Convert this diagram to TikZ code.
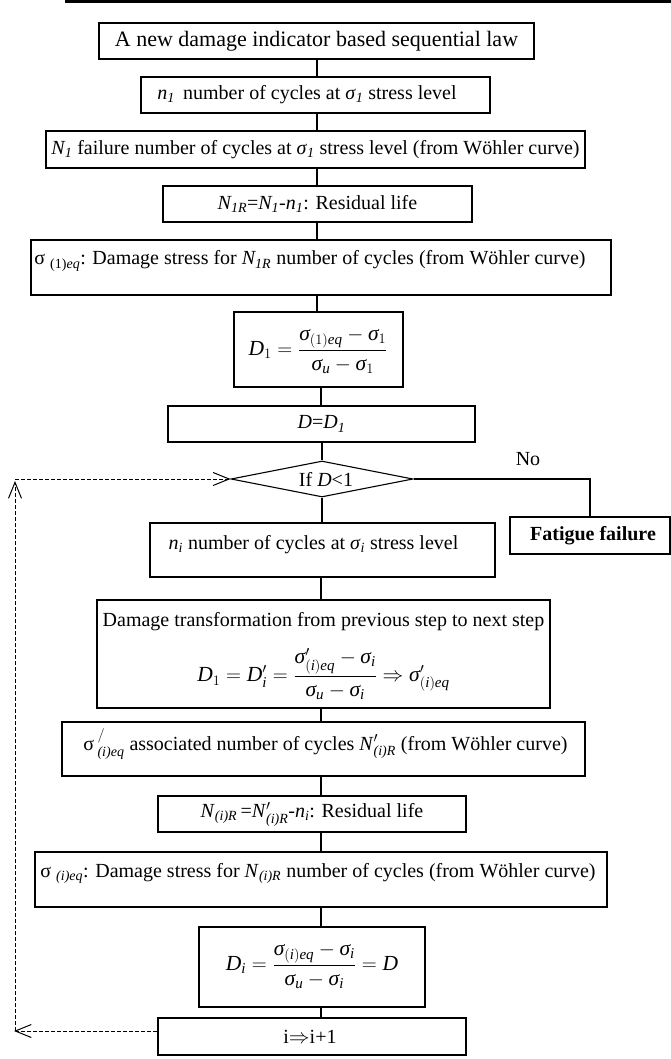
\documentclass[tikz,border=0pt]{standalone}
\usepackage{amsmath}
\usepackage{fontspec}
\setmainfont{Liberation Serif}
\usetikzlibrary{arrows.meta,shapes.geometric,calc}
\newcommand{\mainfs}{\fontsize{20}{24}\selectfont}
\newcommand{\bigfs}{\fontsize{22}{26}\selectfont}
\newcommand{\mathfs}{\fontsize{21.5}{25}\selectfont}
\newcommand{\Sig}{\textit{σ}}
\newcommand{\dstrut}{\rule{0pt}{17pt}}
\newcommand{\nstrut}{\rule[-4pt]{0pt}{4pt}}
\begin{document}
\begin{tikzpicture}[x=1pt,y=-1pt,
  box/.style={draw, line width=1.1pt, inner sep=0pt, font=\mainfs, align=center},
  txt/.style={inner sep=0pt, font=\mainfs, align=center},
  mth/.style={inner sep=0pt, font=\mathfs},
  conn/.style={line width=1.1pt},
  backarrow/.style={line width=1pt, dash pattern=on 4pt off 2pt, -{Straight Barb[length=16pt,width=13pt,line width=1pt]}}]
\useasboundingbox (0,0) rectangle (671,1059);
\fill (65,0) rectangle (671,3);
\coordinate (sA) at (317,0);
\coordinate (sB) at (321,0);

\node[box, minimum width=435pt, minimum height=36pt, font=\bigfs] (b1) at (316.5,41) {A new damage indicator based sequential law};
\node[box, minimum width=349pt, minimum height=36pt] (b2) at (315.5,95) {};
\node[txt] (t2) at (307,95) {\textit{n\textsubscript{1}}\, number of cycles at \Sig\textsubscript{\textit{1}} stress level};
\node[box, minimum width=539pt, minimum height=37pt] (b3) at (315.5,149.5) {\textit{N\textsubscript{1}} failure number of cycles at \Sig\textsubscript{\textit{1}} stress level (from Wöhler curve)};
\node[box, minimum width=309pt, minimum height=36pt] (b4) at (317.5,204) {\textit{N\textsubscript{1R}}=\textit{N\textsubscript{1}}-\textit{n\textsubscript{1}}: Residual life};
\node[box, minimum width=580pt, minimum height=55pt] (b5) at (321,267.5) {};
\node[txt] (t5) at (310,261) {σ \textsubscript{(1)\textit{eq}}: Damage stress for \textit{N\textsubscript{1R}} number of cycles (from Wöhler curve)};
\node[box, minimum width=169pt, minimum height=75pt] (b6) at (318.5,349.5) {};
\node[mth] (f6) at (318,351) {$\displaystyle \textit{D}_1=\frac{\Sig_{(1)\textit{eq}}-\Sig_1\nstrut}{\dstrut\Sig_{\textit{u}}-\Sig_1}$};
\node[box, minimum width=307pt, minimum height=36pt] (b7) at (321.5,424) {\textit{D}=\textit{D\textsubscript{1}}};
\node[draw, diamond, line width=1.1pt, inner sep=0pt, aspect=5, minimum width=182pt, minimum height=36pt] (dia) at (322,479) {};
\node[txt] (tdia) at (326,479) {If \textit{D}<1};
\node[txt] (no) at (528,459) {No};
\node[box, minimum width=160pt, minimum height=37pt] (fat) at (590,535.5) {};
\node[txt, font=\mainfs\bfseries] (tfat) at (593,535.5) {Fatigue failure};
\node[box, minimum width=345pt, minimum height=54pt] (b8) at (322.5,550) {};
\node[txt] (t8) at (313.5,545) {\textit{n\textsubscript{i}} number of cycles at \Sig\textsubscript{\textit{i}} stress level};
\node[box, minimum width=453pt, minimum height=108pt] (b9) at (323.5,654) {};
\node[txt] (t9) at (323.5,622) {Damage transformation from previous step to next step};
\node[mth] (f9) at (323.5,674) {$\displaystyle \textit{D}_1=\textit{D}'_{\textit{i}}=\frac{\Sig'_{(\textit{i})\textit{eq}}-\Sig_{\textit{i}}\nstrut}{\dstrut\Sig_{\textit{u}}-\Sig_{\textit{i}}}\Rightarrow\Sig'_{(\textit{i})\textit{eq}}$};
\node[box, minimum width=523pt, minimum height=54pt] (b10) at (323.5,749) {};
\node[txt] (t10) at (325.5,744) {σ\,$^{/}_{\textit{(i)eq}}$ associated number of cycles \textit{N}$'_{\textit{(i)R}}$ (from Wöhler curve)};
\node[box, minimum width=308pt, minimum height=36pt] (b11) at (312,814) {\textit{N}$_{\textit{(i)R}}$\,=\textit{N}$'_{\textit{(i)R}}$-\textit{n\textsubscript{i}}: Residual life};
\node[box, minimum width=572pt, minimum height=55pt] (b12) at (321,879.5) {};
\node[txt] (t12) at (318,873) {σ \textsubscript{\textit{(i)eq}}: Damage stress for \textit{N}\textsubscript{\textit{(i)R}} number of cycles (from Wöhler curve)};
\node[box, minimum width=226pt, minimum height=80pt] (b13) at (312,967) {};
\node[mth] (f13) at (312,966) {$\displaystyle \textit{D}_{\textit{i}}=\frac{\Sig_{(\textit{i})\textit{eq}}-\Sig_{\textit{i}}\nstrut}{\dstrut\Sig_{\textit{u}}-\Sig_{\textit{i}}}=\textit{D}$};
\node[box, minimum width=308pt, minimum height=37pt] (b14) at (312,1036.5) {};
\node[txt] (t14) at (310,1036.5) {i$\Rightarrow$i+1};

\draw[conn] (b1.south -| sA) -- (b2.north -| sA);
\draw[conn] (b2.south -| sA) -- (b3.north -| sA);
\draw[conn] (b3.south -| sA) -- (b4.north -| sA);
\draw[conn] (b4.south -| sA) -- (b5.north -| sA);
\draw[conn] (b5.south -| sA) -- (b6.north -| sA);
\draw[conn] (b6.south -| sB) -- (b7.north -| sB);
\draw[conn] (b7.south -| dia.north) -- (dia.north);
\draw[conn] (dia.south) -- (b8.north -| dia.south);
\draw[conn] (b8.south -| sB) -- (b9.north -| sB);
\draw[conn] (b9.south -| sB) -- (b10.north -| sB);
\draw[conn] (b10.south -| sB) -- (b11.north -| sB);
\draw[conn] (b11.south -| sB) -- (b12.north -| sB);
\draw[conn] (b12.south -| sB) -- (b13.north -| sB);
\draw[conn] (b13.south -| sB) -- (b14.north -| sB);
\draw[conn] (dia.east) -| (fat.north);

\coordinate (cb) at (14,1031);
\coordinate (cbv) at (15,1031);
\coordinate (ct) at (15,481);
\coordinate (cth) at (15,479);
\draw[backarrow] (b14.west |- cb) -- (cb);
\draw[backarrow] (cbv) -- (ct);
\draw[backarrow] (cth) -- (dia.west);
\end{tikzpicture}
\end{document}
